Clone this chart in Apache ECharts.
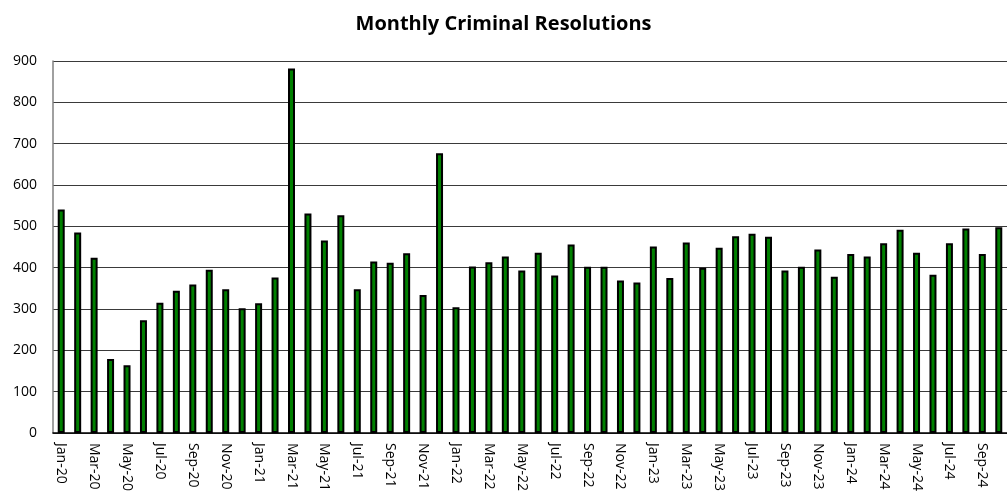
<!DOCTYPE html>
<html><head><meta charset="utf-8">
<script src="https://cdn.jsdelivr.net/npm/echarts@6/dist/echarts.min.js"></script>
<style>html,body{margin:0;padding:0;background:#fff}#c{width:1007px;height:495px}</style>
</head><body><div id="c"></div>
<script>
const categories = ["Jan-20","Feb-20","Mar-20","Apr-20","May-20","Jun-20","Jul-20","Aug-20","Sep-20","Oct-20","Nov-20","Dec-20",
"Jan-21","Feb-21","Mar-21","Apr-21","May-21","Jun-21","Jul-21","Aug-21","Sep-21","Oct-21","Nov-21","Dec-21",
"Jan-22","Feb-22","Mar-22","Apr-22","May-22","Jun-22","Jul-22","Aug-22","Sep-22","Oct-22","Nov-22","Dec-22",
"Jan-23","Feb-23","Mar-23","Apr-23","May-23","Jun-23","Jul-23","Aug-23","Sep-23","Oct-23","Nov-23","Dec-23",
"Jan-24","Feb-24","Mar-24","Apr-24","May-24","Jun-24","Jul-24","Aug-24","Sep-24","Oct-24"];
const resolutions = [541,485,424,179,164,273,315,344,359,395,348,302,
314,376,882,531,466,527,348,415,412,435,334,677,
304,403,413,427,393,436,381,456,402,402,369,364,
451,375,461,400,448,476,482,475,393,402,444,378,
433,427,459,492,436,383,459,495,433,498];
const yTicks = {min:0, max:900, interval:100};

const chart = echarts.init(document.getElementById('c'));
chart.setOption({
  animation:false,
  title:{text:'Monthly Criminal Resolutions', left:'center', top:9,
    textStyle:{fontFamily:'Open Sans', fontWeight:'bold', fontSize:20, color:'#000'}},
  grid:{left:53, top:61, width:960, height:372},
  xAxis:{type:'category', data:categories, boundaryGap:true,
    axisLine:{lineStyle:{color:'#000', width:1.5}},
    axisTick:{show:false},
    axisLabel:{interval:1, rotate:-90, margin:10, fontFamily:'Open Sans', fontSize:14, color:'#000'}},
  yAxis:{type:'value', min:yTicks.min, max:yTicks.max, interval:yTicks.interval,
    axisLine:{show:true, lineStyle:{color:'#808080', width:1.5}},
    axisTick:{show:false},
    axisLabel:{margin:16, fontFamily:'Open Sans', fontSize:14, color:'#000'},
    splitLine:{show:true, lineStyle:{color:'#3a3a3a', width:1.2}}},
  series:[{type:'bar', data:resolutions, barWidth:7,
    itemStyle:{color:'#008000', borderColor:'#000', borderWidth:2}}]
});
</script></body></html>
